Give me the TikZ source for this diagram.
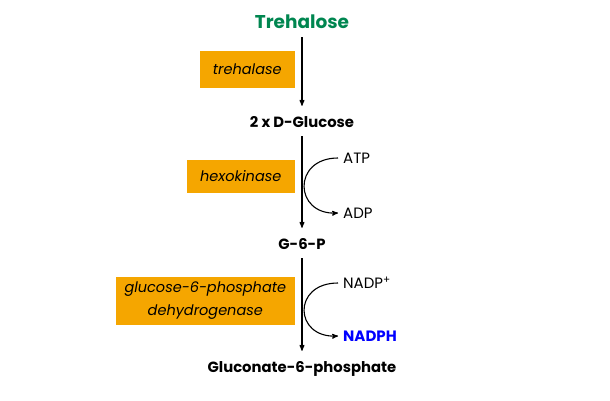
\documentclass[tikz,border=0pt]{standalone}
\usepackage{fontspec}
\setmainfont{Poppins}
\usetikzlibrary{arrows}
\usetikzlibrary{calc}
\tikzset{>=stealth'}
\definecolor{enzyme}{RGB}{245, 166, 0}
\definecolor{sugar}{RGB}{0, 134, 80}
\definecolor{nadph}{RGB}{0, 0, 255}
\tikzset{
	metab/.style={anchor=base, inner sep=0pt, text depth=0pt, font=\fontsize{14.8}{18}\selectfont\bfseries},
	enzbox/.style={anchor=east, fill=enzyme, minimum height=35pt, align=center, font=\fontsize{14.5}{23}\selectfont\itshape},
	cofac/.style={anchor=west, inner sep=5pt, font=\fontsize{15}{18}\selectfont},
	mainarr/.style={->, line width=1.1pt, shorten <=9pt, shorten >=10pt},
	sidearr/.style={->, line width=1.1pt}
}
\begin{document}
\begin{tikzpicture}[x=1pt, y=-1pt]
				\useasboundingbox (0,0) rectangle (610,400);
				% metabolites
				\node[metab, font=\fontsize{18.5}{22}\selectfont\bfseries, text=sugar] (tre) at (302,28) {Trehalose};
				\node[metab] (glc) at (302,127) {2 x D-Glucose};
				\node[metab] (g6p) at (302,249) {G-6-P};
				\node[metab] (gnt) at (302,372) {Gluconate-6-phosphate};
				\draw[mainarr] (tre) -- (glc);
				\draw[mainarr] (glc) -- (g6p);
				\draw[mainarr] (g6p) -- (gnt);

				% enzymes
				\node[enzbox, minimum width=95pt, minimum height=37pt] (trh) at (295,69) {trehalase};
				\node[enzbox, minimum width=108pt, minimum height=33pt] (hxk) at (295,176.5) {hexokinase};
				\node[enzbox, minimum width=179pt, minimum height=48pt, inner ysep=2pt] (gpd) at (295,301) {glucose-6-phosphate\\dehydrogenase};

				% cofactors
				\node[cofac] (atp) at (338,158) {ATP};
				\node[cofac] (adp) at (338,213) {ADP};
				\node[cofac] (nadp) at (338,283) {NADP\textsuperscript{+}};
				\node[cofac, text=nadph, font=\fontsize{15}{18}\selectfont\bfseries] (nadh) at (338,336) {NADPH};
				\draw[sidearr] (atp.west) .. controls +(-46,0) and +(-44,2) .. (adp.west);
				\draw[sidearr] (nadp.west) .. controls +(-46,0) and +(-44,2) .. (nadh.west);
			\end{tikzpicture}
\end{document}
